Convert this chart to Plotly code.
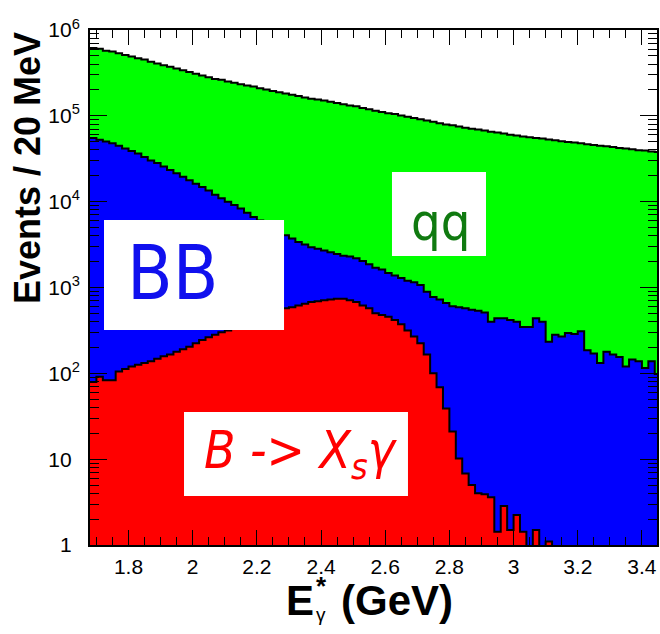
import plotly.graph_objects as go

# Histogram binning (20 MeV bins)
bin_start = 1.68
bin_width = 0.02

# Stacked histogram levels, one value per 20 MeV bin
# total = qq + BB + signal
total_all = [617000, 603000, 575000, 562000, 537000, 513000, 490000, 468000, 452000, 427000,
             407000, 389000, 372000, 355000, 339000, 324000, 309000, 295000, 282000, 269000,
             263000, 251000, 243000, 234000, 226000, 219000, 209000, 202000, 195000, 188000,
             182000, 176000, 170000, 164000, 158000, 155000, 151000, 146000, 141000, 136000,
             132000, 129000, 123000, 119000, 114800, 110900, 107200, 104700, 101200, 97700,
             94400, 91200, 88100, 85100, 82200, 79400, 77600, 75000, 72400, 70800,
             69200, 67600, 65300, 63800, 62400, 60300, 58900, 57500, 56200, 55000,
             54300, 53100, 51900, 50700, 49500, 49000, 47900, 46800, 45700, 44700,
             44200, 43200, 42200, 41700, 40700, 39800, 39400, 38500, 38000]

# BB + signal
bb_plus_signal = [55000, 52500, 50100, 47900, 44700, 41700, 38900, 36300, 33100, 30200,
                  28200, 25700, 23400, 21400, 19500, 17800, 16200, 14800, 13500, 12000,
                  10960, 10000, 9120, 8320, 7410, 6610, 6030, 5500, 4900, 4470,
                  4070, 3720, 3390, 3160, 2950, 2820, 2690, 2570, 2455, 2344,
                  2291, 2188, 2042, 1862, 1698, 1622, 1479, 1380, 1288, 1202,
                  1148, 1072, 891, 776, 724, 661, 603, 589, 575, 550,
                  537, 513, 398, 437, 437, 417, 398, 347, 347, 437,
                  398, 234, 282, 269, 295, 288, 309, 186, 170, 132,
                  178, 166, 155, 120, 145, 138, 115, 138, 98]

# B -> Xs gamma signal
signal = [79, 91, 83, 83, 105, 112, 120, 126, 132, 138,
          148, 158, 166, 178, 191, 204, 224, 245, 263, 282,
          302, 316, 339, 363, 389, 427, 457, 490, 525, 550,
          575, 589, 617, 646, 676, 692, 708, 724, 741, 741,
          708, 676, 617, 575, 501, 479, 457, 417, 372, 316,
          269, 224, 166, 100, 69, 39, 21, 10.2, 6.8, 5.0,
          4.0, 3.9, 3.6, 1.43, 2.85, 1.5, 2.24, 1.43, 0, 1.5,
          0, 1.1, 0, 0, 0, 0, 0, 0, 0, 0,
          0, 0, 0, 0, 0, 0, 0, 0, 0]

x_tick_vals = [1.8, 2.0, 2.2, 2.4, 2.6, 2.8, 3.0, 3.2, 3.4]
x_tick_text = ["1.8", "2", "2.2", "2.4", "2.6", "2.8", "3", "3.2", "3.4"]
y_tick_vals = [1, 10, 100, 1000, 10000, 100000, 1000000]
y_tick_text = ["1<sup>&nbsp;&nbsp;</sup>", "10<sup>&nbsp;&nbsp;</sup>", "10<sup>2</sup>", "10<sup>3</sup>",
               "10<sup>4</sup>", "10<sup>5</sup>", "10<sup>6</sup>"]

n_bins = len(signal)
edges = [round(bin_start + bin_width * i, 4) for i in range(n_bins + 1)]

fig = go.Figure()
for vals, color in [(total_all, "#00ff00"), (bb_plus_signal, "#0000ff"), (signal, "#ff0000")]:
    ys = [max(v, 0.5) for v in vals] + [max(vals[-1], 0.5)]
    fig.add_trace(go.Scatter(
        x=edges, y=ys, mode="lines",
        line=dict(shape="hv", color="black", width=2),
        fill="tozeroy", fillcolor=color,
        showlegend=False, hoverinfo="skip"))

axis_font = dict(family="Liberation Sans, Arial, sans-serif", size=21, color="black")

fig.update_layout(
    width=660, height=634, autosize=False,
    margin=dict(l=90, r=3, t=30, b=89),
    paper_bgcolor="white", plot_bgcolor="white",
    xaxis=dict(range=[1.68, 3.447], tickmode="array", tickvals=x_tick_vals, ticktext=x_tick_text,
               ticks="inside", ticklen=15, tickwidth=1, tickcolor="black", automargin=False,
               showline=True, linecolor="black", linewidth=2, mirror="ticks",
               showgrid=False, zeroline=False, tickfont=axis_font, ticklabelstandoff=2,
               minor=dict(ticks="inside", ticklen=8, tickwidth=1, tickcolor="black",
                          tick0=1.8, dtick=0.05, showgrid=False)),
    yaxis=dict(type="log", range=[0, 6], tickmode="array", tickvals=y_tick_vals, ticktext=y_tick_text,
               ticks="inside", ticklen=17, tickwidth=1, tickcolor="black", automargin=False,
               showline=True, linecolor="black", linewidth=2, mirror="ticks",
               showgrid=False, zeroline=False, tickfont=axis_font, ticklabelstandoff=4,
               minor=dict(ticks="inside", ticklen=9, tickwidth=1, tickcolor="black",
                          dtick="D1", showgrid=False)),
)

# white label boxes
boxes = [(0.5326, 0.7243, 0.6984, 0.5612), (0.0247, 0.6311, 0.3422, 0.4175), (0.1658, 0.2583, 0.5608, 0.0951)]
for x0, y0, x1, y1 in boxes:
    fig.add_shape(type="rect", xref="paper", yref="paper", x0=x0, y0=y0, x1=x1, y1=y1,
                  fillcolor="white", line=dict(width=0), layer="above")

label_family = "DejaVu Sans Condensed, DejaVu Sans, sans-serif"
fig.add_annotation(xref="paper", yref="paper", x=(440 - 90) / 567, y=(545 - 222) / 515,
                   text="qq", showarrow=False, xanchor="center", yanchor="middle",
                   font=dict(family=label_family, size=52, color="#107a10"))
fig.add_annotation(xref="paper", yref="paper", x=(172 - 90) / 567, y=(545 - 273) / 515,
                   text="BB", showarrow=False, xanchor="center", yanchor="middle",
                   font=dict(family=label_family, size=74, color="#1010ee"))
fig.add_annotation(xref="paper", yref="paper", x=(301 - 90) / 567, y=(545 - 454) / 515,
                   text="<i>B -> X<sub>s</sub>γ</i>", showarrow=False, xanchor="center", yanchor="middle",
                   font=dict(family=label_family, size=51, color="#ff0000"))

# axis titles
title_family = "Liberation Sans, Arial, sans-serif"
fig.add_annotation(xref="paper", yref="paper", x=(27 - 90) / 567, y=(545 - 168) / 515,
                   text="<b>Events / 20 MeV</b>", textangle=-90, showarrow=False,
                   xanchor="center", yanchor="middle",
                   font=dict(family=title_family, size=36, color="black"))
fig.add_annotation(xref="paper", yref="paper", x=(300 - 90) / 567, y=(545 - 600) / 515,
                   text="<b>E</b>", showarrow=False, xanchor="center", yanchor="middle",
                   font=dict(family=title_family, size=42, color="black"))
fig.add_annotation(xref="paper", yref="paper", x=(321 - 90) / 567, y=(545 - 586) / 515,
                   text="<b>*</b>", showarrow=False, xanchor="center", yanchor="middle",
                   font=dict(family=title_family, size=26, color="black"))
fig.add_annotation(xref="paper", yref="paper", x=(321 - 90) / 567, y=(545 - 614) / 515,
                   text="γ", showarrow=False, xanchor="center", yanchor="middle",
                   font=dict(family=title_family, size=19, color="black"))
fig.add_annotation(xref="paper", yref="paper", x=(397 - 90) / 567, y=(545 - 600) / 515,
                   text="<b>(GeV)</b>", showarrow=False, xanchor="center", yanchor="middle",
                   font=dict(family=title_family, size=42, color="black"))

fig.write_html("out.html", config={"displayModeBar": False},
               post_script="document.body.style.margin='0';document.body.style.overflow='hidden';")
